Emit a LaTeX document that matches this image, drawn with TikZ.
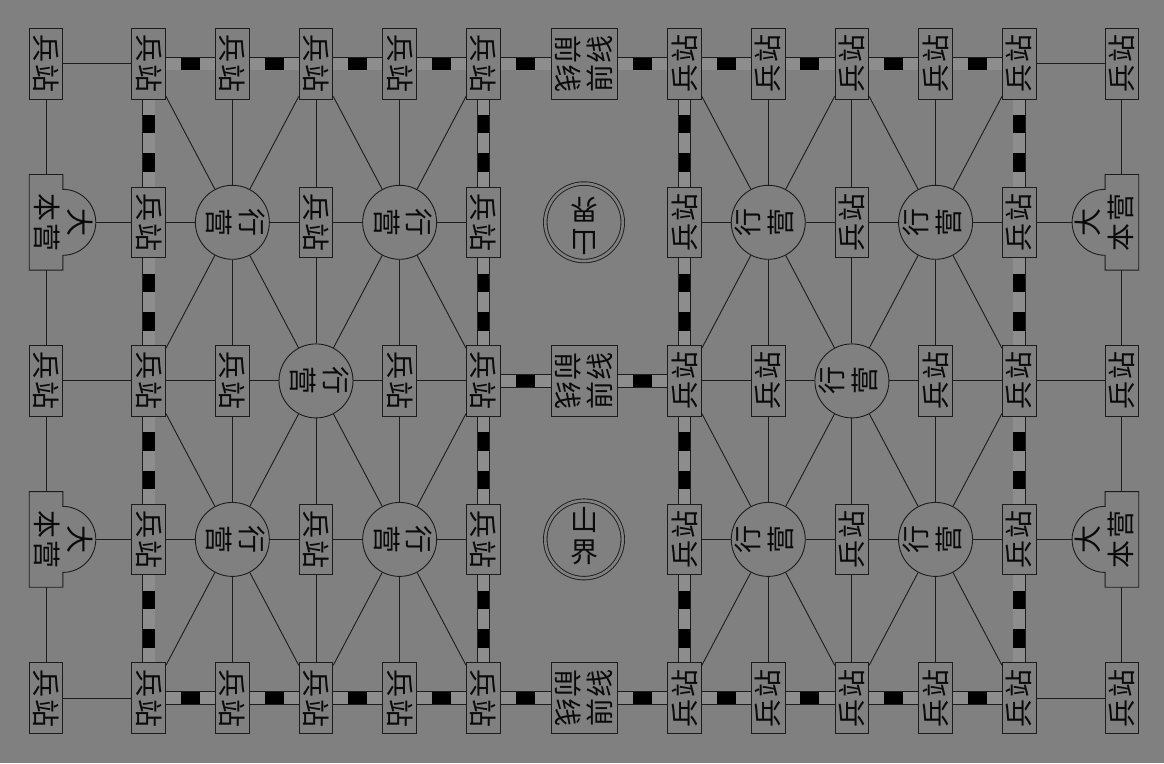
\documentclass[tikz,border=0pt]{standalone}
\usepackage{fontspec}
\usepackage{graphicx}
\newfontfamily\cjk{Noto Sans CJK SC}
\definecolor{bgc}{HTML}{808080}
\definecolor{railc}{HTML}{8D8D8D}
\definecolor{inkc}{HTML}{0A0A0A}
\definecolor{linec}{HTML}{1C1C1C}
\pgfdeclarelayer{bglayer}
\pgfdeclarelayer{midlayer}
\pgfsetlayers{bglayer,midlayer,main}
\newcommand\Lr[1]{\rotatebox[origin=c]{-90}{#1}}
\newcommand\Rr[1]{\rotatebox[origin=c]{90}{#1}}
\newcommand\Tw[2]{\begin{tabular}{@{}c@{}}#1\\#2\end{tabular}}
\newcommand\BZ{兵\kern2pt 站}
\newcommand\QX{前\kern1pt 线}
\tikzset{
  every node/.style={font=\cjk\fontsize{28}{31}\selectfont, text=inkc, inner sep=0pt},
  post/.style={draw=linec, fill=bgc, line width=0.9pt, minimum width=33.6pt, minimum height=70.6pt},
  front/.style={post, minimum width=66pt},
  camp/.style={circle, draw=linec, fill=bgc, line width=0.9pt, minimum size=74pt},
  mount/.style={circle, draw=linec, double=bgc, double distance=2.6pt, line width=0.9pt, minimum size=77.5pt},
  hq/.style={minimum width=33.6pt, minimum height=95.6pt, outer sep=0pt},
  hqline/.style={draw=linec, fill=bgc, line width=0.9pt},
  road/.style={draw=linec, line width=0.9pt},
  rail/.style={draw=linec, line width=0.9pt, double=railc, double distance=11.6pt},
  hbar/.style={draw=black, line width=11.6pt, dash pattern=on 0pt off 15.2pt on 19pt off 300pt},
  vbar/.style={draw=black, line width=11.6pt, dash pattern=on 0pt off 15.5pt on 18.5pt off 20pt on 18.5pt off 300pt},
}
\begin{document}
\begin{tikzpicture}[x=1pt,y=1pt]
\useasboundingbox (0,0) rectangle (1164,-763);
% grid coordinates
\foreach \c/\x in {0/46,1/148.7,2/232.35,3/316,4/399.65,5/483.3,6/584,7/684.6,8/768.25,9/851.9,10/935.55,11/1019.2,12/1121.9}{
  \foreach \r/\y in {0/-63.7,1/-222.3,2/-380.9,3/-539.4,4/-698}{
    \coordinate (g\c-\r) at (\x,\y);
  }
}
% posts (left rotated -90, right rotated 90)
\foreach \c/\r in {0/0,0/2,0/4,1/0,1/1,1/2,1/3,1/4,2/0,2/2,2/4,3/0,3/1,3/3,3/4,4/0,4/2,4/4,5/0,5/1,5/2,5/3,5/4}{
  \pgfmathtruncatemacro\m{12-\c}
  \node[post] (p\c-\r) at (g\c-\r) {\Lr{\BZ}};
  \node[post] (p\m-\r) at (g\m-\r) {\Rr{\BZ}};
}
% camps
\foreach \c/\r in {2/1,4/1,3/2,2/3,4/3}{
  \pgfmathtruncatemacro\m{12-\c}
  \node[camp] (p\c-\r) at (g\c-\r) {\Lr{\Tw{行}{营}}};
  \node[camp] (p\m-\r) at (g\m-\r) {\Rr{\Tw{行}{营}}};
}
% headquarters
\foreach \r in {1,3}{
  \node[hq] (p0-\r) at (g0-\r) {\makebox[0pt]{\hspace*{28pt}\Lr{\Tw{大}{本\kern2pt 营}}}};
  \node[hq] (p12-\r) at (g12-\r) {\makebox[0pt]{\Rr{\Tw{大}{本\kern2pt 营}}\hspace*{28pt}}};
  \begin{pgfonlayer}{midlayer}
    \filldraw[hqline] (p0-\r.north east) -- (p0-\r.north west) -- (p0-\r.south west) -- (p0-\r.south east)
      -- ([yshift=14.8pt]p0-\r.south east) arc[start angle=-90,end angle=90,radius=33pt] -- cycle;
    \filldraw[hqline] (p12-\r.north west) -- (p12-\r.north east) -- (p12-\r.south east) -- (p12-\r.south west)
      -- ([yshift=14.8pt]p12-\r.south west) arc[start angle=270,end angle=90,radius=33pt] -- cycle;
  \end{pgfonlayer}
}
% front line and mountains
\foreach \r in {0,2,4}{
  \node[front] (p6-\r) at (g6-\r) {\Lr{\QX}\hspace{6pt}\Rr{\QX}};
}
\node[mount] (p6-1) at (g6-1) {\rotatebox[origin=c]{180}{\Tw{山}{界}}};
\node[mount] (p6-3) at (g6-3) {\Tw{山}{界}};
% connectors
\begin{pgfonlayer}{bglayer}
\fill[bgc] (0,0) rectangle (1164,-763);
\foreach \ca/\ra/\cb/\rb in {0/0/1/0, 0/4/1/4,
  0/1/1/1, 1/1/2/1, 2/1/3/1, 3/1/4/1, 4/1/5/1,
  0/2/1/2, 1/2/2/2, 2/2/3/2, 3/2/4/2, 4/2/5/2,
  0/3/1/3, 1/3/2/3, 2/3/3/3, 3/3/4/3, 4/3/5/3,
  0/0/0/1, 0/1/0/2, 0/2/0/3, 0/3/0/4,
  2/0/2/1, 2/1/2/2, 2/2/2/3, 2/3/2/4,
  3/0/3/1, 3/1/3/2, 3/2/3/3, 3/3/3/4,
  4/0/4/1, 4/1/4/2, 4/2/4/3, 4/3/4/4,
  2/1/1/0, 2/1/3/0, 2/1/1/2, 2/1/3/2,
  4/1/3/0, 4/1/5/0, 4/1/3/2, 4/1/5/2,
  2/3/1/2, 2/3/3/2, 2/3/1/4, 2/3/3/4,
  4/3/3/2, 4/3/5/2, 4/3/3/4, 4/3/5/4}{
  \pgfmathtruncatemacro\ma{12-\ca}
  \pgfmathtruncatemacro\mb{12-\cb}
  \draw[road] (p\ca-\ra) -- (p\cb-\rb);
  \draw[road] (p\ma-\ra) -- (p\mb-\rb);
}
% horizontal railways
\foreach \ca/\cb/\r in {1/2/0,2/3/0,3/4/0,4/5/0,5/6/0,1/2/4,2/3/4,3/4/4,4/5/4,5/6/4,5/6/2}{
  \pgfmathtruncatemacro\ma{12-\ca}
  \pgfmathtruncatemacro\mb{12-\cb}
  \draw[rail] (p\ca-\r) -- (p\cb-\r);
  \draw[hbar] (p\ca-\r) -- (p\cb-\r);
  \draw[rail] (p\ma-\r) -- (p\mb-\r);
  \draw[hbar] (p\ma-\r) -- (p\mb-\r);
}
% vertical railways
\foreach \c in {1,5,7,11}{
  \foreach \ra/\rb in {0/1,1/2,2/3,3/4}{
    \draw[rail] (p\c-\ra) -- (p\c-\rb);
    \draw[vbar] (p\c-\ra) -- (p\c-\rb);
  }
}
\end{pgfonlayer}
\end{tikzpicture}
\end{document}
